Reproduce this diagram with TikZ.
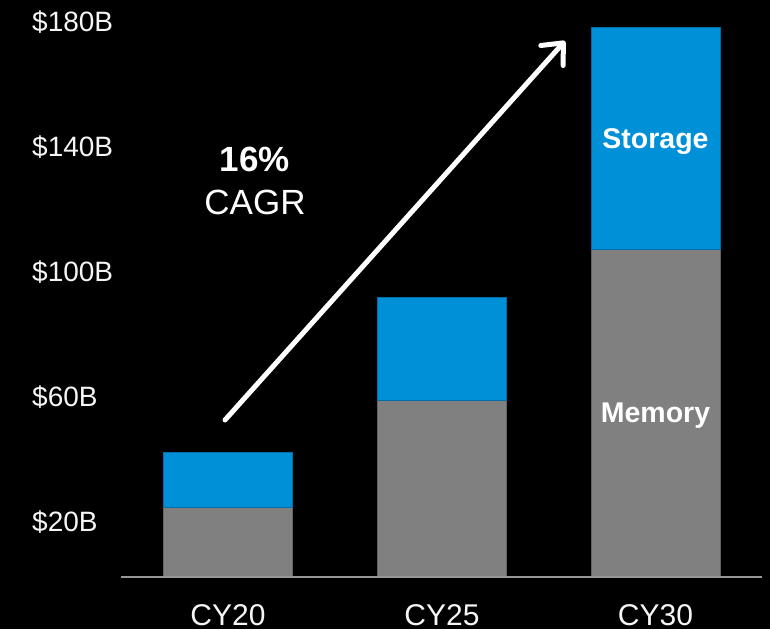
\documentclass[tikz,border=0pt]{standalone}
\usepackage{fontspec}
\setmainfont{Liberation Sans}
\usetikzlibrary{arrows.meta}
\definecolor{storblue}{RGB}{0,144,216}
\definecolor{storedge}{RGB}{0,110,170}
\definecolor{memgray}{RGB}{128,128,128}
\definecolor{memedge}{RGB}{100,100,100}
\definecolor{axisgray}{RGB}{150,150,150}
\definecolor{txt}{RGB}{245,245,245}
\tikzset{
  storbar/.style={fill=storblue, draw=storedge, line width=0.6pt},
  membar/.style={fill=memgray, draw=memedge, line width=0.6pt},
  ylab/.style={anchor=base west, inner sep=0pt, text=txt, font=\fontsize{28}{30}\selectfont},
  xlab/.style={anchor=base, inner sep=0pt, text=txt, font=\fontsize{30}{32}\selectfont},
  inlab/.style={anchor=base, inner sep=0pt, text=white, font=\bfseries\fontsize{28.5}{30}\selectfont},
  cagr/.style={anchor=base, inner sep=0pt, text=white, font=\fontsize{35}{37}\selectfont},
  growth/.style={draw=white, line width=5pt, line cap=round,
    -{Straight Barb[round, length=17pt, width=30pt]}}
}
\begin{document}
\begin{tikzpicture}[x=1pt, y=-1pt]
\fill[black] (0,0) rectangle (770,629);
\useasboundingbox (0,0) rectangle (770,629);
% bars
\path[membar]  (163.5,577) rectangle (292.5,507.5);
\path[storbar] (163.5,507.5) rectangle (292.5,452);
\path[membar]  (377.5,577) rectangle (506.5,400);
\path[storbar] (377.5,400) rectangle (506.5,297);
\path[membar]  (591,577) rectangle (720,249.5);
\path[storbar] (591,249.5) rectangle (720,27);
% axis
\coordinate (ax0) at (121,577);
\coordinate (ax1) at (762,577);
\draw[axisgray, line width=2pt] (ax0) -- (ax1);
% y labels
\node[ylab] (y180) at (32,31) {\$180B};
\node[ylab] (y140) at (32,156) {\$140B};
\node[ylab] (y100) at (32,281) {\$100B};
\node[ylab] (y60)  at (32,406) {\$60B};
\node[ylab] (y20)  at (32,531) {\$20B};
% x labels
\node[xlab] (cy20) at (228,625) {CY20};
\node[xlab] (cy25) at (442,625) {CY25};
\node[xlab] (cy30) at (655.5,625) {CY30};
% in-bar labels
\node[inlab] (stor) at (655.5,148) {Storage};
\node[inlab] (mem)  at (655.5,422) {Memory};
% CAGR
\node[cagr, font=\bfseries\fontsize{35}{37}\selectfont] (pct) at (255,171.5) {16\%};
\node[cagr] (cagrtxt) at (255,214) {CAGR};
% growth arrow
\coordinate (a0) at (225,420);
\coordinate (a1) at (565,41);
\draw[growth] (a0) -- (a1);
\end{tikzpicture}
\end{document}
